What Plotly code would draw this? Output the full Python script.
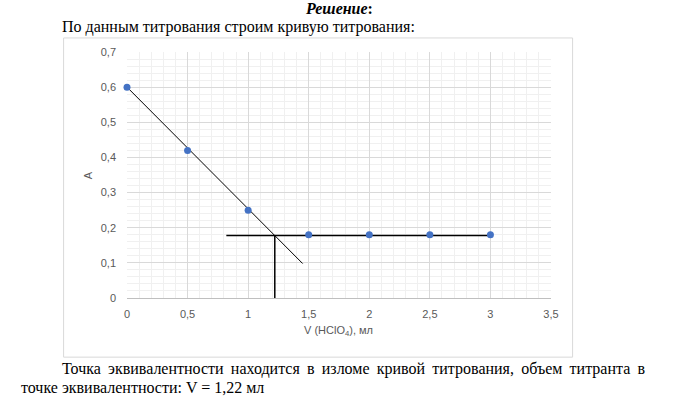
import plotly.graph_objects as go

# Data
volume = [0, 0.5, 1, 1.5, 2, 2.5, 3]
absorbance = [0.6, 0.42, 0.25, 0.18, 0.18, 0.18, 0.18]

# construction lines
diag_x = [0, 1.45]
diag_y = [0.6, 0.098]
horiz_x = [0.82, 3.0]
horiz_y = [0.178, 0.178]
vert_x = [1.22, 1.22]
vert_y = [0, 0.178]

x_ticks = [0, 0.5, 1, 1.5, 2, 2.5, 3, 3.5]
x_tick_text = ["0", "0,5", "1", "1,5", "2", "2,5", "3", "3,5"]
y_ticks = [0, 0.1, 0.2, 0.3, 0.4, 0.5, 0.6, 0.7]
y_tick_text = ["0", "0,1", "0,2", "0,3", "0,4", "0,5", "0,6", "0,7"]

W, H = 677, 402
L, R, T, B = 126.7, 550.7, 52.3, 297.7


def px(x):
    return (x - L) / (R - L)


def py(y):
    return (B - y) / (B - T)


fig = go.Figure()
fig.add_trace(go.Scatter(x=diag_x, y=diag_y, mode="lines",
                         line=dict(color="black", width=1), hoverinfo="skip"))
fig.add_trace(go.Scatter(x=horiz_x, y=horiz_y, mode="lines",
                         line=dict(color="black", width=1.5), hoverinfo="skip"))
fig.add_trace(go.Scatter(x=vert_x, y=vert_y, mode="lines",
                         line=dict(color="black", width=1.5), hoverinfo="skip"))
fig.add_trace(go.Scatter(x=volume, y=absorbance, mode="markers",
                         marker=dict(color="#4472C4", size=7), cliponaxis=False))

axis_font = dict(family="Liberation Sans, Arial", size=11, color="#595959")

fig.update_layout(
    width=W, height=H,
    margin=dict(l=L, r=W - R, t=T, b=H - B, pad=0),
    paper_bgcolor="white", plot_bgcolor="white",
    showlegend=False,
    xaxis=dict(range=[0, 3.5], tickvals=x_ticks, ticktext=x_tick_text,
               showgrid=True, gridcolor="#d9d9d9", gridwidth=1,
               minor=dict(dtick=0.1, showgrid=True, gridcolor="#f0f0f0", gridwidth=1),
               showline=True, linecolor="#bfbfbf", linewidth=1,
               zeroline=False, ticks="", ticklabelstandoff=6, tickfont=axis_font),
    yaxis=dict(range=[0, 0.7], tickvals=y_ticks, ticktext=y_tick_text,
               showgrid=True, gridcolor="#d9d9d9", gridwidth=1,
               minor=dict(dtick=0.02, showgrid=True, gridcolor="#f0f0f0", gridwidth=1),
               showline=False, zeroline=False, ticks="", ticklabelstandoff=10,
               tickfont=axis_font),
)

# chart frame
fig.add_shape(type="rect", xref="paper", yref="paper",
              x0=px(63.3), x1=px(572.3), y0=py(356.7), y1=py(38.3),
              line=dict(color="#d9d9d9", width=1), fillcolor="rgba(0,0,0,0)", layer="below")

# axis titles
fig.add_annotation(xref="paper", yref="paper", x=px(338), y=py(331),
                   text="V (HClO<sub>4</sub>), мл", showarrow=False,
                   font=axis_font, xanchor="center", yanchor="middle")
fig.add_annotation(xref="paper", yref="paper", x=px(88), y=py(175),
                   text="A", showarrow=False, textangle=-90,
                   font=axis_font, xanchor="center", yanchor="middle")

serif = "Liberation Serif, Times New Roman"
fs = 16
fig.add_annotation(xref="paper", yref="paper", x=px(339), y=py(9),
                   text="<b><i>Решение</i>:</b>", showarrow=False,
                   font=dict(family=serif, size=fs, color="black"),
                   xanchor="center", yanchor="middle")
fig.add_annotation(xref="paper", yref="paper", x=px(60), y=py(27),
                   text="По данным титрования строим кривую титрования:", showarrow=False,
                   font=dict(family=serif, size=fs, color="black"),
                   xanchor="left", yanchor="middle")
line1 = "Точка эквивалентности находится в изломе кривой титрования, объем титранта в"
line1 = line1.replace(" ", " \u2009")
fig.add_annotation(xref="paper", yref="paper", x=px(60), y=py(369),
                   text=line1,
                   showarrow=False,
                   font=dict(family=serif, size=fs, color="black"),
                   xanchor="left", yanchor="middle")
fig.add_annotation(xref="paper", yref="paper", x=px(19), y=py(387),
                   text="точке эквивалентности: V = 1,22 мл", showarrow=False,
                   font=dict(family=serif, size=fs, color="black"),
                   xanchor="left", yanchor="middle")

fig.write_html("out.html")
